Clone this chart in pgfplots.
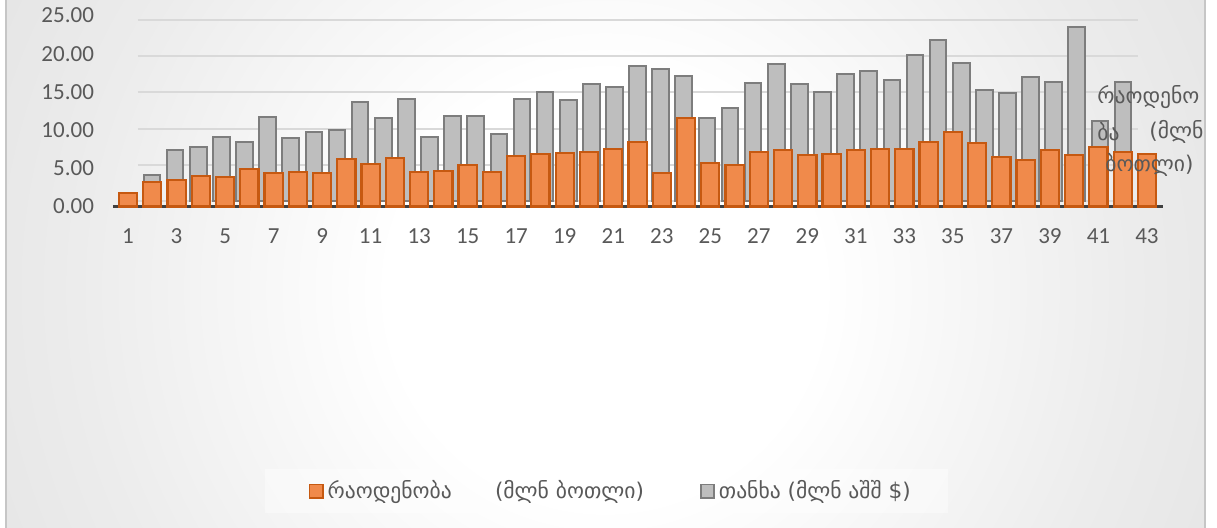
\documentclass[border=0pt]{standalone}
\usepackage{pgfplots}
\pgfplotsset{compat=1.18}
\usepackage{pgfplotstable}
\usepackage{fontspec}
\setmainfont{Carlito}
\newfontfamily\geo{DejaVu Sans}

\definecolor{barorange}{RGB}{240,138,75}
\definecolor{barorangedark}{RGB}{198,89,17}
\definecolor{bargray}{RGB}{190,190,190}
\definecolor{bargraydark}{RGB}{125,125,125}
\definecolor{txt}{RGB}{89,89,89}
\definecolor{gridc}{RGB}{217,217,217}
\definecolor{axisc}{RGB}{64,64,64}
\definecolor{bgtop}{RGB}{236,236,236}
\definecolor{bgmid}{RGB}{206,206,206}
\definecolor{bgedge}{RGB}{196,196,196}

\pgfdeclareradialshading{chartbg}{\pgfpoint{0bp}{0bp}}{color(0bp)=(white); color(9bp)=(white); color(22bp)=(bgtop); color(50bp)=(bgmid); color(55bp)=(bgedge); color(100bp)=(bgedge)}

\pgfplotsset{sqlegend/.style={legend image code/.code={\draw[##1, line width=0.9pt] (0pt,-3.3pt) rectangle (6.6pt,3.3pt);}}}

% quantity, mln bottles
\pgfplotstableread{
k q
1 1.77
2 3.20
3 3.47
4 4.00
5 3.86
6 4.90
7 4.40
8 4.50
9 4.40
10 6.20
11 5.60
12 6.35
13 4.50
14 4.65
15 5.40
16 4.50
17 6.60
18 6.90
19 7.00
20 7.10
21 7.50
22 8.40
23 4.40
24 11.60
25 5.70
26 5.40
27 7.10
28 7.40
29 6.70
30 6.90
31 7.40
32 7.50
33 7.50
34 8.40
35 9.75
36 8.30
37 6.50
38 6.10
39 7.40
40 6.70
41 7.80
42 7.10
43 6.90
}\qtydata

% value, mln USD
\pgfplotstableread{
k v
1 3.6
2 7.1
3 7.4
4 8.9
5 8.1
6 11.6
7 8.7
8 9.5
9 9.8
10 13.7
11 11.4
12 14.1
13 8.9
14 11.7
15 11.7
16 9.3
17 14.1
18 15.1
19 13.9
20 16.1
21 15.8
22 18.7
23 18.3
24 17.3
25 11.4
26 12.9
27 16.3
28 18.9
29 16.2
30 15.1
31 17.6
32 17.9
33 16.7
34 20.1
35 22.3
36 19.0
37 15.3
38 14.9
39 17.1
40 16.4
41 24.0
42 11.1
43 16.4
}\valdata

\begin{document}
\begin{tikzpicture}
\begin{scope}[x=0.5pt,y=0.5pt]
\useasboundingbox (0,0) rectangle (1217,527);
\fill[white] (0,0) rectangle (1217,527);
\begin{scope}
\clip (6,0) rectangle (1205,527);
\shade[shading=chartbg] (5,-363) rectangle (1205,837);
\end{scope}
\draw[gray!45, line width=0.8pt] (6,-2) -- (6,529);
\draw[gray!45, line width=0.8pt] (1205,-2) -- (1205,529);
% legend panel
\fill[white, opacity=0.4] (265,14) rectangle (948,58);
\end{scope}

% back row (value)
\begin{axis}[
    at={(68.85pt,163pt)}, anchor=south west,
    scale only axis,
    width=500.3pt, height=90.5pt,
    xmin=0.38, xmax=43.66,
    ymin=0, ymax=25,
    axis line style={draw=none},
    xtick=\empty,
    ytick={0,5,...,25}, yticklabels={},
    major tick length=0pt,
    ymajorgrids,
    grid style={gridc, line width=1pt},
    clip=false,
]
\addplot[ybar, bar width=0.72, bar shift=0pt, fill=bargray, draw=bargraydark, line width=1pt]
    table[x=k, y=v] {\valdata};
\end{axis}

% front row (quantity)
\begin{axis}[
    at={(56.5pt,160.25pt)}, anchor=south west,
    scale only axis,
    width=525pt, height=95.5pt,
    xmin=0.38, xmax=43.66,
    ymin=0, ymax=25,
    axis lines*=left,
    separate axis lines,
    axis line style={-},
    x axis line style={axisc, line width=1.5pt},
    y axis line style={draw=none},
    xtick={1,3,...,43},
    ytick={0,5,...,25},
    major tick length=0pt,
    tick label style={txt, font=\fontsize{11.5}{13}\selectfont},
    yticklabel style={xshift=-6pt, /pgf/number format/.cd, fixed, fixed zerofill, precision=2, assume math mode=true},
    xticklabel style={yshift=-7.5pt, /pgf/number format/assume math mode=true},
    legend style={at={(0.475,-1.49)}, anchor=center, draw=none, fill=none,
        legend columns=2, text=txt,
        font=\geo\fontsize{10.8}{13}\selectfont,
        /tikz/every even column/.append style={column sep=26pt}},
    clip=false,
]
\addplot[ybar, bar width=0.75, bar shift=0pt, fill=barorange, draw=barorangedark, line width=1.1pt, sqlegend]
    table[x=k, y=q] {\qtydata};
\addlegendentry{რაოდენობა\hspace{2em}(მლნ ბოთლი)}
\addlegendimage{fill=bargray, draw=bargraydark, line width=0.9pt, sqlegend}
\addlegendentry{თანხა (მლნ აშშ \$)}
\end{axis}

% series axis title, cut at the chart edge
\begin{scope}[x=0.5pt,y=0.5pt]
\clip (6,0) rectangle (1205,527);
\begin{scope}[every node/.style={txt, font=\geo\fontsize{10.8}{13}\selectfont, anchor=west, inner sep=0pt}]
\node at (1097,430) {რაოდენო};
\node at (1097,395) {ბა};
\node at (1149,395) {(მლნ};
\node at (1105,362) {ბოთლი)};
\end{scope}
\end{scope}
\end{tikzpicture}
\end{document}
